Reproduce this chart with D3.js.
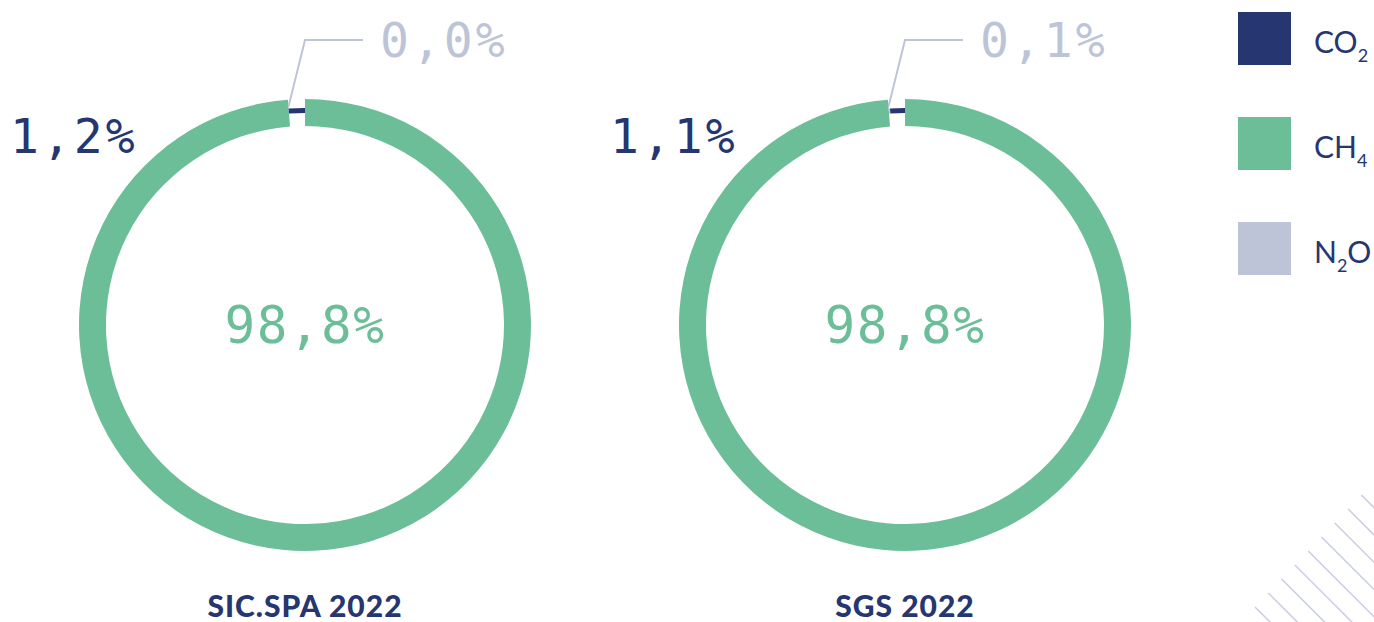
<!DOCTYPE html>
<html>
<head>
<meta charset="utf-8">
<script src="https://cdn.jsdelivr.net/npm/d3@7"></script>
<style>
  body { margin: 0; background: #fff; }
  svg { display: block; }
</style>
</head>
<body>
<svg id="chart" width="1374" height="622"></svg>
<script>
// data
const companies = ["SIC.SPA 2022", "SGS 2022"];
const gases = ["CO2", "CH4", "N2O"];
const co2Values = [1.2, 1.1];
const ch4Values = [98.8, 98.8];
const n2oValues = [0.0, 0.1];

const navy = "#253670", green = "#6bbe98", lilac = "#bec4d8";
const colors = d3.scaleOrdinal().domain(gases).range([navy, green, lilac]);

var svg = d3.select("#chart");
var monoFont = "'DejaVu Sans Mono', monospace";

var x = d3.scalePoint().domain(companies).range([305, 905]);
var cy = 325;

var pie = d3.pie().sort(null).value(d => d.value);
var bigArc = d3.arc().innerRadius(199).outerRadius(226);
var thinArc = d3.arc().innerRadius(212).outerRadius(217);

var fmt = v => d3.format(".1f")(v).replace(".", ",") + "%";

companies.forEach(function(name, i) {
    var cx = x(name);
    var g = svg.append("g").attr("transform", `translate(${cx},${cy})`);

    // order round the ring: CH4 first from the top, then N2O, then CO2
    var slices = [
        {gas: "CH4", value: ch4Values[i]},
        {gas: "N2O", value: n2oValues[i]},
        {gas: "CO2", value: co2Values[i]}
    ];
    var arcs = pie(slices);

    g.selectAll("path")
        .data(arcs)
        .enter().append("path")
        .attr("d", d => d.data.gas == "CH4" ? bigArc(d) : thinArc(d))
        .attr("fill", d => colors(d.data.gas));

    // leader to the N2O slice
    var a = arcs[1].startAngle;
    var px = Math.sin(a) * 219, py = -Math.cos(a) * 219;
    g.append("path")
        .attr("d", `M${px},${py}L${0},${40 - cy}L${58},${40 - cy}`)
        .attr("fill", "none")
        .attr("stroke", lilac)
        .attr("stroke-width", 2);

    g.append("text")
        .attr("x", 75).attr("y", 57 - cy)
        .attr("font-family", monoFont).attr("font-size", 48)
        .attr("letter-spacing", 3)
        .attr("fill", lilac)
        .text(fmt(n2oValues[i]));

    g.append("text")
        .attr("x", -295).attr("y", 153 - cy)
        .attr("font-family", monoFont).attr("font-size", 48)
        .attr("letter-spacing", 3)
        .attr("fill", navy)
        .text(fmt(co2Values[i]));

    g.append("text")
        .attr("x", 0).attr("y", 343 - cy)
        .attr("text-anchor", "middle")
        .attr("font-family", monoFont).attr("font-size", 51)
        .attr("letter-spacing", 1.5)
        .attr("fill", green)
        .text(fmt(ch4Values[i]));

    svg.append("text")
        .attr("x", cx).attr("y", 617)
        .attr("text-anchor", "middle")
        .attr("font-family", "Lato, sans-serif").attr("font-size", 30)
        .attr("font-weight", 900)
        .attr("letter-spacing", 1)
        .attr("fill", navy)
        .text(name);
});

// legend
var legendY = d3.scalePoint().domain(gases).range([12, 222]);
var subs = {CO2: ["CO", "2", ""], CH4: ["CH", "4", ""], N2O: ["N", "2", "O"]};
var leg = svg.append("g");
gases.forEach(function(gs) {
    var y0 = legendY(gs);
    leg.append("rect")
        .attr("x", 1238).attr("y", y0)
        .attr("width", 53).attr("height", 53)
        .attr("fill", colors(gs));
    var t = leg.append("text")
        .attr("x", 1314).attr("y", y0 + 41)
        .attr("font-family", "Lato, sans-serif").attr("font-size", 30)
        .attr("fill", navy);
    t.append("tspan").text(subs[gs][0]);
    t.append("tspan").attr("font-size", 18).attr("dy", 9).text(subs[gs][1]);
    if (subs[gs][2]) t.append("tspan").attr("dy", -9).text(subs[gs][2]);
});

// decorative hatching, bottom right
var hatch = svg.append("g").attr("stroke", "#c9cde0").attr("stroke-width", 1.5);
d3.range(9).forEach(function(k) {
    var sx = 1255 + k * 13.3, sy = 607 - k * 14;
    hatch.append("line")
        .attr("x1", sx).attr("y1", sy)
        .attr("x2", sx + 160).attr("y2", sy + 160);
});
</script>
</body>
</html>
